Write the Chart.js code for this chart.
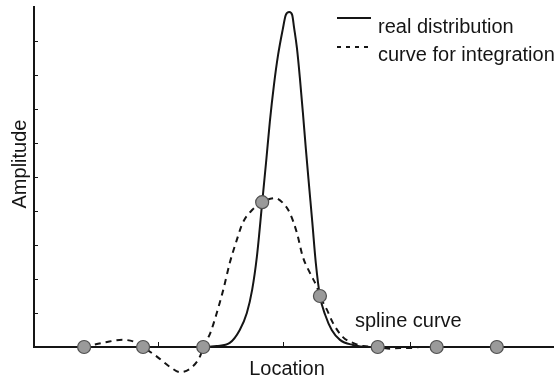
<!DOCTYPE html>
<html>
<head>
<meta charset="utf-8">
<script src="https://cdn.jsdelivr.net/npm/chart.js@4/dist/chart.umd.min.js"></script>
<style>
  html, body { margin: 0; padding: 0; background: #fff; overflow: hidden; }
  canvas { display: block; }
</style>
</head>
<body>
<canvas id="c" width="554" height="380"></canvas>
<script>
// ---- data (location units: knots at 1..8; amplitude 0..10) ----
const realX = [0.15, 2.97, 3.25, 3.47, 3.64, 3.76, 3.85, 3.93, 4.02, 4.09, 4.15, 4.22, 4.29, 4.37, 4.42, 4.48, 4.53, 4.56, 4.61, 4.66, 4.71, 4.76, 4.81, 4.87, 4.93, 5.00, 5.09, 5.20, 5.34, 5.56, 5.80, 8.97];
const realY = [0, 0, 0.03, 0.12, 0.5, 1.0, 1.68, 2.65, 4.24, 5.50, 6.62, 7.71, 8.59, 9.35, 9.76, 9.85, 9.76, 9.41, 8.79, 7.91, 6.91, 5.85, 4.85, 3.68, 2.47, 1.5, 0.94, 0.5, 0.21, 0.06, 0, 0];

const splineX = [1.0, 1.39, 1.66, 1.90, 2.0, 2.24, 2.46, 2.63, 2.85, 2.97, 3.02, 3.14, 3.25, 3.36, 3.47, 3.59, 3.69, 3.85, 4.02, 4.24, 4.37, 4.49, 4.61, 4.71, 4.83, 4.95, 5.0, 5.12, 5.22, 5.39, 5.56, 5.73, 6.0, 6.19, 6.36, 6.53, 6.69, 6.98, 8.0];
const splineY = [0, 0.15, 0.21, 0.12, 0, -0.29, -0.59, -0.74, -0.56, -0.26, 0, 0.41, 1.0, 1.68, 2.47, 3.15, 3.65, 4.03, 4.26, 4.38, 4.24, 3.94, 3.35, 2.65, 2.18, 1.76, 1.5, 1.09, 0.71, 0.29, 0.12, 0.03, 0, -0.05, -0.03, -0.03, 0, 0, 0];

const knotX = [1, 2, 3.02, 4.02, 5.0, 5.98, 6.98, 8.0];
const knotY = [0, 0, 0, 4.26, 1.5, 0, 0, 0];

const xTickValues = [2.25, 4.37, 6.53];
const yTickValues = [1, 2, 3, 4, 5, 6, 7, 8, 9];

const seriesLabels = ['real distribution', 'curve for integration'];
const xTitle = 'Location';
const yTitle = 'Amplitude';
const noteText = 'spline curve';

const pts = (xs, ys) => xs.map((x, i) => ({ x: x, y: ys[i] }));

const FONT = '20px "Liberation Sans", Arial, Helvetica, sans-serif';
const INK = '#151515';

const decor = {
  id: 'decor',
  afterDraw(chart) {
    const ctx = chart.ctx;
    const xs = chart.scales.x, ys = chart.scales.y;
    const a = chart.chartArea;
    ctx.save();
    // inward tick marks
    ctx.strokeStyle = INK;
    ctx.lineWidth = 1;
    ys.ticks.forEach(t => {
      if (t.value <= 0 || t.value >= 10) return;
      const py = Math.round(ys.getPixelForValue(t.value)) + 0.5;
      ctx.beginPath(); ctx.moveTo(a.left, py); ctx.lineTo(a.left + 4, py); ctx.stroke();
    });
    xs.ticks.forEach(t => {
      const px = Math.round(xs.getPixelForValue(t.value)) + 0.5;
      ctx.beginPath(); ctx.moveTo(px, a.bottom); ctx.lineTo(px, a.bottom - 5); ctx.stroke();
    });
    // axis titles
    ctx.fillStyle = INK;
    ctx.font = FONT;
    ctx.textAlign = 'center';
    ctx.textBaseline = 'alphabetic';
    ctx.fillText(xTitle, 287, 375);
    ctx.save();
    ctx.translate(26, 164);
    ctx.rotate(-Math.PI / 2);
    ctx.fillText(yTitle, 0, 0);
    ctx.restore();
    // legend
    ctx.textAlign = 'left';
    const rows = [{ y: 18, ty: 33, dash: [] }, { y: 47, ty: 61, dash: [4, 5] }];
    rows.forEach((r, i) => {
      ctx.strokeStyle = INK;
      ctx.lineWidth = 2;
      ctx.setLineDash(r.dash);
      ctx.beginPath(); ctx.moveTo(337, r.y); ctx.lineTo(371, r.y); ctx.stroke();
      ctx.setLineDash([]);
      ctx.fillText(chart.data.datasets[i + 1].label, 378, r.ty);
    });
    // annotation
    ctx.fillText(noteText, 355, 327);
    ctx.restore();
  }
};

new Chart(document.getElementById('c'), {
  type: 'line',
  data: {
    datasets: [
      {
        label: 'knots',
        data: pts(knotX, knotY),
        showLine: false,
        pointRadius: 6.5,
        pointBackgroundColor: '#9a9a9a',
        pointBorderColor: '#505050',
        pointBorderWidth: 1.2,
        clip: false,
        order: 0
      },
      {
        label: seriesLabels[0],
        data: pts(realX, realY),
        borderColor: INK,
        borderWidth: 2,
        pointRadius: 0,
        cubicInterpolationMode: 'monotone',
        fill: false,
        clip: false,
        order: 1
      },
      {
        label: seriesLabels[1],
        data: pts(splineX, splineY),
        borderColor: INK,
        borderWidth: 2,
        borderDash: [6, 5],
        pointRadius: 0,
        cubicInterpolationMode: 'monotone',
        fill: false,
        clip: false,
        order: 2
      }
    ]
  },
  options: {
    responsive: false,
    maintainAspectRatio: false,
    animation: false,
    events: [],
    layout: { autoPadding: false, padding: { left: 34, top: 7, right: 0, bottom: 33 } },
    plugins: { legend: { display: false }, tooltip: { enabled: false } },
    scales: {
      x: {
        type: 'linear',
        min: 0.15,
        max: 8.97,
        afterBuildTicks: s => { s.ticks = xTickValues.map(v => ({ value: v })); },
        ticks: { display: false },
        grid: { display: false, drawTicks: false },
        border: { display: true, color: INK, width: 2 }
      },
      y: {
        type: 'linear',
        min: 0,
        max: 10,
        afterBuildTicks: s => { s.ticks = yTickValues.map(v => ({ value: v })); },
        ticks: { display: false },
        grid: { display: false, drawTicks: false },
        border: { display: true, color: INK, width: 2 }
      }
    }
  },
  plugins: [decor]
});
</script>
</body>
</html>
